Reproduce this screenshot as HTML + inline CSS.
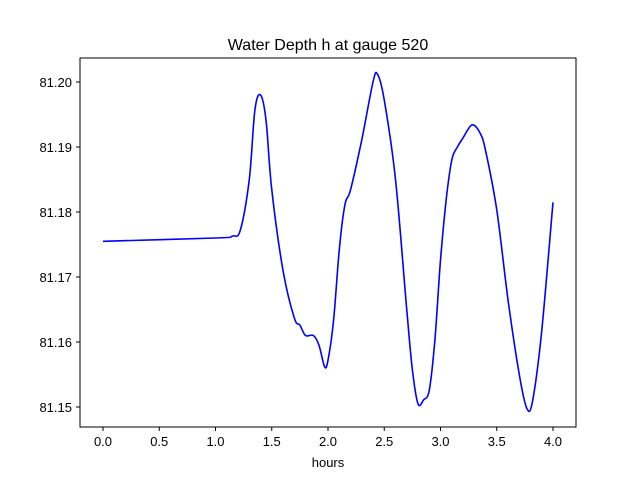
<!DOCTYPE html>
<html><head><meta charset="utf-8"><style>
body{margin:0;background:#fff;}
svg{display:block;font-family:"Liberation Sans","DejaVu Sans",sans-serif;}
</style></head><body>
<svg id="chart" width="640" height="480">
<rect x="0" y="0" width="640" height="480" fill="#fff"/>
<text x="328" y="50" text-anchor="middle" font-size="16">Water Depth h at gauge 520</text>
<g id="xt"></g>
<g id="yt"></g>
<path id="line" fill="none" stroke="#0000ff" stroke-width="1.6" stroke-linejoin="round"/>
<rect x="80" y="58" width="496" height="369" fill="none" stroke="#000" stroke-width="1"/>
<text x="328" y="467" text-anchor="middle" font-size="13">hours</text>
</svg>
<script>
const hours=[0,1.0,1.15,1.22,1.3,1.35,1.4,1.45,1.5,1.6,1.7,1.75,1.8,1.87,1.92,1.97,2.0,2.05,2.1,2.15,2.2,2.3,2.4,2.44,2.5,2.6,2.7,2.75,2.8,2.85,2.9,2.95,3.0,3.05,3.1,3.15,3.2,3.28,3.35,3.4,3.5,3.6,3.7,3.77,3.82,3.9,4.0];
const depth=[81.1755,81.1760,81.1763,81.1772,81.1850,81.1957,81.1980,81.1940,81.1834,81.1710,81.1637,81.1626,81.1610,81.1610,81.1595,81.1562,81.1572,81.1634,81.1742,81.1811,81.1834,81.1911,81.2000,81.2012,81.1972,81.1850,81.1649,81.1557,81.1505,81.1511,81.1526,81.1603,81.1726,81.1818,81.1880,81.1900,81.1914,81.1934,81.1922,81.1895,81.1803,81.1665,81.1550,81.1497,81.1511,81.1618,81.1815];
const xTicks=[0,0.5,1.0,1.5,2.0,2.5,3.0,3.5,4.0];
const yTicks=[81.15,81.16,81.17,81.18,81.19,81.20];
const NS="http://www.w3.org/2000/svg";
const xs=v=>103+v*112.5;
const ys=v=>82+(81.20-v)*6500;
const P=hours.map((h,i)=>[xs(h),ys(depth[i])]);
let d="M"+P[0][0].toFixed(1)+","+P[0][1].toFixed(1);
for(let i=0;i<P.length-1;i++){
 const p0=P[Math.max(0,i-1)],p1=P[i],p2=P[i+1],p3=P[Math.min(P.length-1,i+2)];
 const c1x=p1[0]+(p2[0]-p0[0])/6,c1y=p1[1]+(p2[1]-p0[1])/6;
 const c2x=p2[0]-(p3[0]-p1[0])/6,c2y=p2[1]-(p3[1]-p1[1])/6;
 d+=" C"+c1x.toFixed(1)+","+c1y.toFixed(1)+" "+c2x.toFixed(1)+","+c2y.toFixed(1)+" "+p2[0].toFixed(1)+","+p2[1].toFixed(1);
}
document.getElementById('line').setAttribute('d',d);
const xt=document.getElementById('xt'),yt=document.getElementById('yt');
xTicks.forEach(t=>{
 const l=document.createElementNS(NS,'line');
 l.setAttribute('x1',xs(t));l.setAttribute('x2',xs(t));l.setAttribute('y1',427);l.setAttribute('y2',431);l.setAttribute('stroke','#000');
 
 
 xt.appendChild(l);
 const tx=document.createElementNS(NS,'text');
 tx.setAttribute('x',xs(t));tx.setAttribute('y',446);tx.setAttribute('text-anchor','middle');tx.setAttribute('font-size','13');
 tx.textContent=t.toFixed(1);
 
 
 xt.appendChild(tx);
});
yTicks.forEach(t=>{
 const l=document.createElementNS(NS,'line');
 l.setAttribute('x1',76);l.setAttribute('x2',80);l.setAttribute('y1',ys(t));l.setAttribute('y2',ys(t));l.setAttribute('stroke','#000');
 
 
 yt.appendChild(l);
 const tx=document.createElementNS(NS,'text');
 tx.setAttribute('x',72);tx.setAttribute('y',ys(t)+5);tx.setAttribute('text-anchor','end');tx.setAttribute('font-size','13');
 tx.textContent=t.toFixed(2);
 
 
 yt.appendChild(tx);
});
</script>
</body></html>
